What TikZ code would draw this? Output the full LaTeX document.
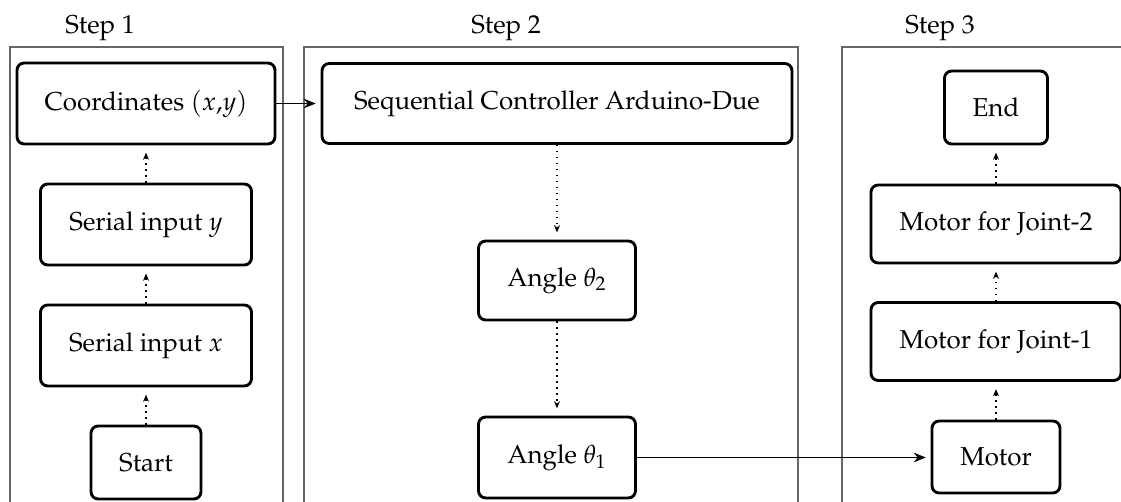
\documentclass[tikz,border=0pt]{standalone}
\usepackage[T1]{fontenc}
\usepackage{mathpazo}
\usetikzlibrary{arrows.meta}
\begin{document}
\begin{tikzpicture}[x=0.4167pt,y=-0.4167pt,
  box/.style={draw, line width=1.2pt, rounded corners=3pt, inner sep=0pt, align=center, font=\fontsize{10.8}{13}\selectfont},
  sz/.style 2 args={minimum width=#1*0.4167pt, minimum height=#2*0.4167pt},
  frame/.style={draw=black!60, line width=0.5pt},
  steplabel/.style={anchor=base, font=\fontsize{10.8}{13}\selectfont},
  flow/.style={-{Stealth[length=5pt,width=4pt]}, line width=0.8pt, shorten >=2pt},
  dots/.style={dotted, line width=0.5pt, -{Stealth[length=3pt,width=2.5pt]}, shorten >=3pt}]
\useasboundingbox (0,0) rectangle (1121,502);
\clip (0,0) rectangle (1121,502);
% panels
\draw[frame] (10,47) rectangle (283,530);
\draw[frame] (304,47) rectangle (798,530);
\draw[frame] (842,47) rectangle (1140,530);
\node[steplabel] (s1) at (100,34) {Step 1};
\node[steplabel] (s2) at (506,34) {Step 2};
\node[steplabel] (s3) at (940,34) {Step 3};
% step 1
\node[box, sz={258}{81}] (coord) at (146,103.5) {Coordinates $(x{,}y)$};
\node[box, sz={211}{81}] (sery) at (146,224.5) {Serial input $y$};
\node[box, sz={211}{81}] (serx) at (146,345.5) {Serial input $x$};
\node[box, sz={110}{73}] (start) at (146,462.5) {Start};
% step 2
\node[box, sz={470}{80}] (seq) at (557,103.5) {Sequential Controller Arduino-Due};
\node[box, sz={157}{79}] (th2) at (557,280.5) {Angle $\theta_2$};
\node[box, sz={157}{81}] (th1) at (557,457.5) {Angle $\theta_1$};
% step 3
\node[box, sz={103}{73}] (end) at (996,107.5) {End};
\node[box, sz={250}{78}] (j2) at (996,224) {Motor for Joint-2};
\node[box, sz={250}{78}] (j1) at (996,341.5) {Motor for Joint-1};
\node[box, sz={128}{72}] (motor) at (996,457) {Motor};
% connectors
\draw[dots] (start) -- (serx);
\draw[dots] (serx) -- (sery);
\draw[dots] (sery.north) -- (sery.north |- coord.south);
\draw[dots] (seq.south -| th2.north) -- (th2.north);
\draw[dots] (th2) -- (th1);
\draw[dots] (motor) -- (j1);
\draw[dots] (j1) -- (j2);
\draw[dots] (j2) -- (end);
\draw[flow] (coord.east) -- (seq.west);
\draw[flow] (th1.east) -- (th1.east -| motor.west);
\end{tikzpicture}
\end{document}
